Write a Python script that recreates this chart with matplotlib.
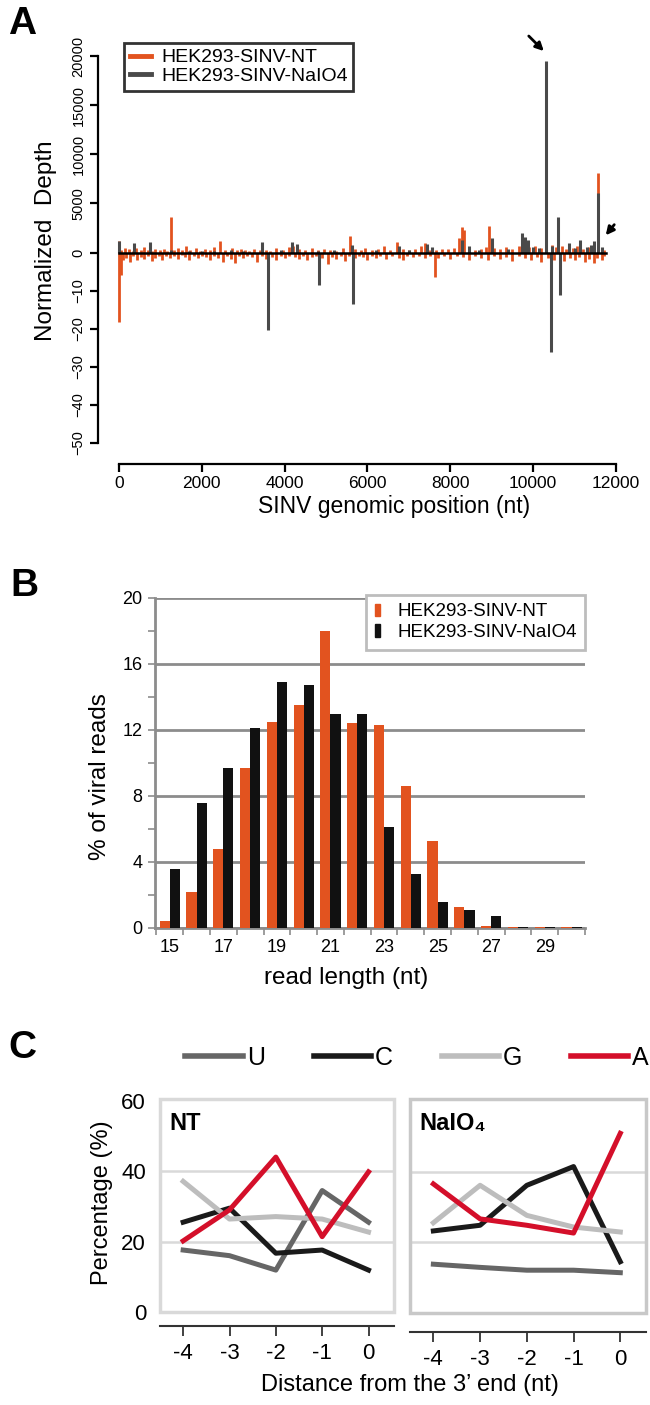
import numpy as np
import matplotlib
matplotlib.use('Agg')
import matplotlib.pyplot as plt
from matplotlib.patches import Rectangle, Patch
from matplotlib.lines import Line2D

plt.rcParams['font.family'] = ['Liberation Sans', 'DejaVu Sans']

W, H = 650, 1405

def box(l, t, r, b):
    # pixel box -> figure fraction [left, bottom, width, height]
    return [l / W, 1 - b / H, (r - l) / W, (b - t) / H]

def fx(px):
    return px / W

def fy(py):
    return 1 - py / H

ORANGE = '#e2531f'
DARK = '#4a4a4a'

# ---------------- panel A data (normalized depth) ----------------
nt_sense_pos = [0, 60, 150, 250, 330, 420, 520, 600, 700, 800, 880, 980, 1080, 1150, 1250, 1330,
                1420, 1520, 1620, 1720, 1850, 1950, 2080, 2200, 2300, 2440, 2550, 2730, 2850, 2950,
                3050, 3150, 3250, 3400, 3550, 3650, 3800, 3950, 4100, 4200, 4350, 4500, 4650, 4800,
                4950, 5100, 5250, 5400, 5580, 5700, 5850, 5950, 6100, 6250, 6400, 6550, 6710, 6850,
                7000, 7150, 7300, 7390, 7500, 7650, 7800, 7950, 8100, 8200, 8280, 8330, 8450, 8600,
                8750, 8850, 8930, 9050, 9200, 9350, 9500, 9650, 9780, 9900, 10050, 10200, 10300,
                10450, 10550, 10700, 10800, 10950, 11050, 11200, 11350, 11480, 11560, 11650, 11720]
nt_sense_val = [1200, 300, 500, 350, 200, 450, 250, 600, 300, 200, 400, 250, 350, 200, 3600, 300,
                500, 250, 700, 300, 450, 200, 350, 250, 600, 1200, 300, 500, 250, 400,
                300, 200, 350, 250, 300, 200, 450, 300, 550, 700, 400, 300, 500, 250,
                350, 300, 200, 450, 1650, 400, 300, 500, 250, 350, 700, 300, 1100, 350,
                250, 400, 700, 1000, 300, 250, 350, 400, 500, 1500, 2600, 2300, 600, 300,
                400, 600, 2700, 500, 350, 600, 400, 700, 500, 600, 700, 500, 1600,
                800, 600, 700, 400, 500, 700, 400, 600, 800, 8100, 500, 300]

nt_anti_pos = [10, 40, 90, 170, 260, 350, 440, 520, 610, 700, 790, 880, 960, 1050, 1140, 1230,
               1320, 1420, 1510, 1600, 1700, 1800, 1900, 2000, 2100, 2200, 2300, 2400, 2500, 2600,
               2700, 2800, 2900, 3000, 3100, 3200, 3340, 3450, 3550, 3700, 3800, 3900, 4000, 4100,
               4250, 4350, 4450, 4550, 4650, 4750, 4900, 5050, 5150, 5250, 5350, 5450, 5550, 5700,
               5800, 5900, 6000, 6100, 6200, 6300, 6450, 6600, 6750, 6850, 6950, 7100, 7250, 7400,
               7520, 7620, 7700, 7850, 8000, 8150, 8300, 8450, 8600, 8750, 8900, 9050, 9200, 9350,
               9500, 9650, 9800, 9950, 10100, 10200, 10350, 10500, 10650, 10750, 10900, 11000,
               11100, 11250, 11350, 11460, 11550, 11650, 11720]
nt_anti_val = [-18.3, -6, -2, -1.5, -2.5, -1, -2, -1.2, -1.8, -1, -2.2, -1.4, -1, -2, -0.8, -1.5,
               -1, -1.8, -0.7, -1.2, -2, -1, -1.5, -0.8, -1.2, -2, -1, -1.5, -2.5, -1,
               -1.8, -2.8, -1, -1.5, -0.8, -1.2, -2.5, -1, -1.8, -1.2, -2, -1, -1.5, -0.8,
               -1.2, -1.8, -1, -2, -1.2, -0.8, -1.5, -3, -1.2, -1.8, -1, -2.2, -1, -1.5,
               -0.8, -1.2, -2, -1, -1.5, -0.8, -1.8, -1, -1.5, -2, -1, -1.2, -0.8, -1.5,
               -1, -6.3, -1.5, -1, -1.8, -0.8, -1.2, -2, -1, -1.5, -2, -1, -1.8, -1.2,
               -2.2, -1, -1.5, -2, -1.2, -2.5, -1.5, -2, -1, -2.2, -1.5, -2,
               -1.2, -2.5, -1.8, -2.8, -1.5, -2, -1]

na_sense_pos = [0, 370, 750, 1250, 1700, 2000, 2300, 2700, 3000, 3445, 3900, 4170, 4290, 4800,
                5200, 5630, 6200, 6760, 7000, 7440, 7550, 8290, 8450, 8700, 9000, 9400, 9720,
                9800, 9880, 10000, 10150, 10305, 10450, 10600, 10857, 11000, 11130, 11300,
                11400, 11480, 11560, 11650]
na_sense_val = [1200, 950, 1100, 300, 150, 200, 200, 250, 200, 1100, 300, 1100, 900, 200,
                250, 800, 300, 700, 250, 900, 600, 1300, 700, 300, 1500, 400, 2000,
                1600, 1300, 600, 500, 19500, 700, 3600, 1000, 500, 1300, 600,
                800, 1200, 6100, 600]

na_anti_pos = [3600, 4820, 5660, 10435, 10655]
na_anti_val = [-20.3, -8.5, -13.5, -26, -11.1]

genome_end = 11760

# ---------------- panel B data ----------------
read_len = np.arange(15, 31)
pct_nt = [0.45, 2.2, 4.8, 9.7, 12.5, 13.5, 18.0, 12.4, 12.3, 8.6, 5.3, 1.3, 0.1, 0.05, 0.05, 0.05]
pct_naio4 = [3.6, 7.6, 9.7, 12.1, 14.9, 14.7, 13.0, 13.0, 6.1, 3.3, 1.55, 1.1, 0.7, 0.05, 0.05, 0.05]

# ---------------- panel C data ----------------
dist = [-4, -3, -2, -1, 0]
bases = ['U', 'C', 'G', 'A']
base_colors = ['#666666', '#1a1a1a', '#bdbdbd', '#d40f2a']
nt_U = [17.6, 16.0, 11.9, 34.5, 25.5]
nt_C = [25.5, 29.5, 16.7, 17.6, 11.9]
nt_G = [37.1, 26.4, 27.1, 26.4, 22.7]
nt_A = [20.2, 29.0, 44.0, 21.4, 39.8]
na_U = [13.8, 12.9, 12.1, 12.1, 11.4]
na_C = [23.2, 24.8, 36.1, 41.4, 14.5]
na_G = [25.5, 36.1, 27.6, 24.3, 22.9]
na_A = [36.5, 26.6, 24.8, 22.6, 50.8]

fig = plt.figure(figsize=(W / 100, H / 100), dpi=100)

# =================== A ===================
POS_K = 0.0098 / 3.8   # positive depth is squeezed relative to the negative part

def fwd(y):
    y = np.asarray(y, dtype=float)
    return np.where(y >= 0, y * POS_K, y)

def inv(u):
    u = np.asarray(u, dtype=float)
    return np.where(u >= 0, u / POS_K, u)

axA = fig.add_axes(box(98, 56, 616, 464))
axA.set_yscale('function', functions=(fwd, inv))
axA.vlines(nt_sense_pos, 0, nt_sense_val, color=ORANGE, lw=2)
axA.vlines(nt_anti_pos, 0, nt_anti_val, color=ORANGE, lw=2)
axA.vlines(na_sense_pos, 0, na_sense_val, color=DARK, lw=2.2)
axA.vlines(na_anti_pos, 0, na_anti_val, color=DARK, lw=2.2)
axA.plot([0, genome_end], [0, 0], color='k', lw=1.8)
axA.set_xlim(-507, 12000)
axA.set_ylim(-55.5, 20000)
yt = [-50, -40, -30, -20, -10, 0, 5000, 10000, 15000, 20000]
axA.set_yticks(yt)
axA.set_yticklabels([str(v).replace('-', '\u2212') for v in yt], rotation=90, va='center',
                    fontsize=10.5)
axA.yaxis.set_minor_locator(matplotlib.ticker.NullLocator())
axA.set_xticks(range(0, 12001, 2000))
axA.set_xticklabels([str(v) for v in range(0, 12001, 2000)], fontsize=12.5)
for s in ['top', 'right']:
    axA.spines[s].set_visible(False)
axA.spines['left'].set_bounds(-50, 20000)
axA.spines['bottom'].set_bounds(0, 12000)
for s in ['left', 'bottom']:
    axA.spines[s].set_linewidth(1.6)
axA.tick_params(length=6, width=1.6, pad=3)

axA.annotate('', xy=(10305, 20300), xytext=(-19, 19), textcoords='offset pixels',
             arrowprops=dict(arrowstyle='-|>', color='k', lw=2, mutation_scale=12),
             annotation_clip=False)
axA.annotate('', xy=(11710, 1530), xytext=(12, 15), textcoords='offset pixels',
             arrowprops=dict(arrowstyle='-|>', color='k', lw=2, mutation_scale=12),
             annotation_clip=False)

legA = axA.legend(handles=[Line2D([], [], color=ORANGE, lw=3.5), Line2D([], [], color=DARK, lw=3.5)],
                  labels=['HEK293-SINV-NT', 'HEK293-SINV-NaIO4'], loc='upper left',
                  bbox_to_anchor=(fx(124), fy(43)), bbox_transform=fig.transFigure,
                  borderaxespad=0, fancybox=False, edgecolor='k', fontsize=14,
                  handlelength=1.1, handletextpad=0.5, labelspacing=0.05, borderpad=0.3)
legA.get_frame().set_linewidth(2)

fig.text(fx(8), fy(6), 'A', fontsize=28, fontweight='bold', va='top', ha='left')
fig.text(fx(46), fy(241), 'Normalized  Depth', rotation=90, fontsize=17.5, ha='center', va='center')
fig.text(fx(394), fy(507), 'SINV genomic position (nt)', fontsize=16.5, ha='center', va='center')

# =================== B ===================
axB = fig.add_axes(box(155, 598, 585, 928))
axB.bar(read_len - 0.19, pct_nt, width=0.38, color=ORANGE, zorder=3)
axB.bar(read_len + 0.19, pct_naio4, width=0.38, color='#111111', zorder=3)
axB.set_xlim(14.45, 30.5)
axB.set_ylim(0, 20)
axB.set_yticks([0, 4, 8, 12, 16, 20])
axB.set_yticks([2, 6, 10, 14, 18], minor=True)
axB.yaxis.grid(True, which='major', color='#8c8c8c', lw=2)
axB.set_axisbelow(True)
axB.set_xticks(range(15, 30, 2))
axB.set_xticks(np.arange(14.5, 31, 1), minor=True)
axB.tick_params(axis='x', which='major', length=0, pad=8, labelsize=13)
axB.tick_params(axis='x', which='minor', length=5, width=1.2, color='#8c8c8c')
axB.tick_params(axis='y', which='both', length=5, width=1.2, color='#8c8c8c', labelsize=13, pad=4)
for s in ['top', 'right']:
    axB.spines[s].set_visible(False)
for s in ['left', 'bottom']:
    axB.spines[s].set_color('#8c8c8c')
    axB.spines[s].set_linewidth(2)
legB = axB.legend(handles=[Patch(color=ORANGE), Patch(color='#111111')],
                  labels=['HEK293-SINV-NT', 'HEK293-SINV-NaIO4'], loc='upper right',
                  bbox_to_anchor=(fx(585), fy(595)), bbox_transform=fig.transFigure,
                  borderaxespad=0, fancybox=False, edgecolor='#bdbdbd', framealpha=1,
                  fontsize=13.5, handlelength=0.3, handleheight=0.65, handletextpad=0.9,
                  labelspacing=0.2, borderpad=0.45)
legB.get_frame().set_linewidth(2)
fig.text(fx(10), fy(568), 'B', fontsize=28, fontweight='bold', va='top', ha='left')
fig.text(fx(100), fy(777), '% of viral reads', rotation=90, fontsize=17.5, ha='center', va='center')
fig.text(fx(346), fy(978), 'read length (nt)', fontsize=17.5, ha='center', va='center')

# =================== C ===================
panels = [
    (box(160, 1099, 394, 1312), 10, [nt_U, nt_C, nt_G, nt_A], 'NT', '#d9d9d9', True),
    (box(410, 1099, 646, 1313), 14, [na_U, na_C, na_G, na_A], 'NaIO\u2084', '#c8c8c8', False),
]
for rect, off, series, title, edge, show_y in panels:
    ax = fig.add_axes(rect)
    for yy in (20, 40):
        ax.axhline(yy, color='#d9d9d9', lw=1.8, zorder=1)
    for vals, c in zip(series, base_colors):
        ax.plot(dist, vals, color=c, lw=3.6, zorder=3)
    ax.add_patch(Rectangle((0, 0), 1, 1, transform=ax.transAxes, fill=False, ec=edge, lw=2.5,
                           clip_on=False, zorder=4))
    ax.set_xlim(-4.5, 0.55)
    ax.set_ylim(0, 60.5)
    for s in ['top', 'right', 'left']:
        ax.spines[s].set_visible(False)
    ax.spines['bottom'].set_position(('outward', off))
    ax.spines['bottom'].set_color('#333333')
    ax.spines['bottom'].set_linewidth(1.5)
    ax.set_xticks(dist)
    ax.set_xticklabels([str(d) for d in dist], fontsize=16)
    ax.tick_params(axis='x', length=7, width=1.3, color='#333333', pad=5)
    if show_y:
        ax.set_yticks([0, 20, 40, 60])
        ax.set_yticklabels(['0', '20', '40', '60'], fontsize=16)
        ax.tick_params(axis='y', length=0, pad=10)
    else:
        ax.set_yticks([])
    ax.text(0.04, 0.94, title, transform=ax.transAxes, fontsize=17, fontweight='bold',
            va='top', ha='left')

fig.legend(handles=[Line2D([], [], color=c, lw=4) for c in base_colors], labels=bases,
           ncol=4, loc='center left', bbox_to_anchor=(fx(163), fy(1058)), frameon=False,
           handlelength=2.3, handletextpad=0.15, columnspacing=1.95, fontsize=18)
fig.text(fx(8), fy(1030), 'C', fontsize=28, fontweight='bold', va='top', ha='left')
fig.text(fx(102), fy(1203), 'Percentage (%)', rotation=90, fontsize=17, ha='center', va='center')
fig.text(fx(410), fy(1385), 'Distance from the 3\u2019 end (nt)', fontsize=17,
         ha='center', va='center')

fig.savefig('out.png', dpi=100)
